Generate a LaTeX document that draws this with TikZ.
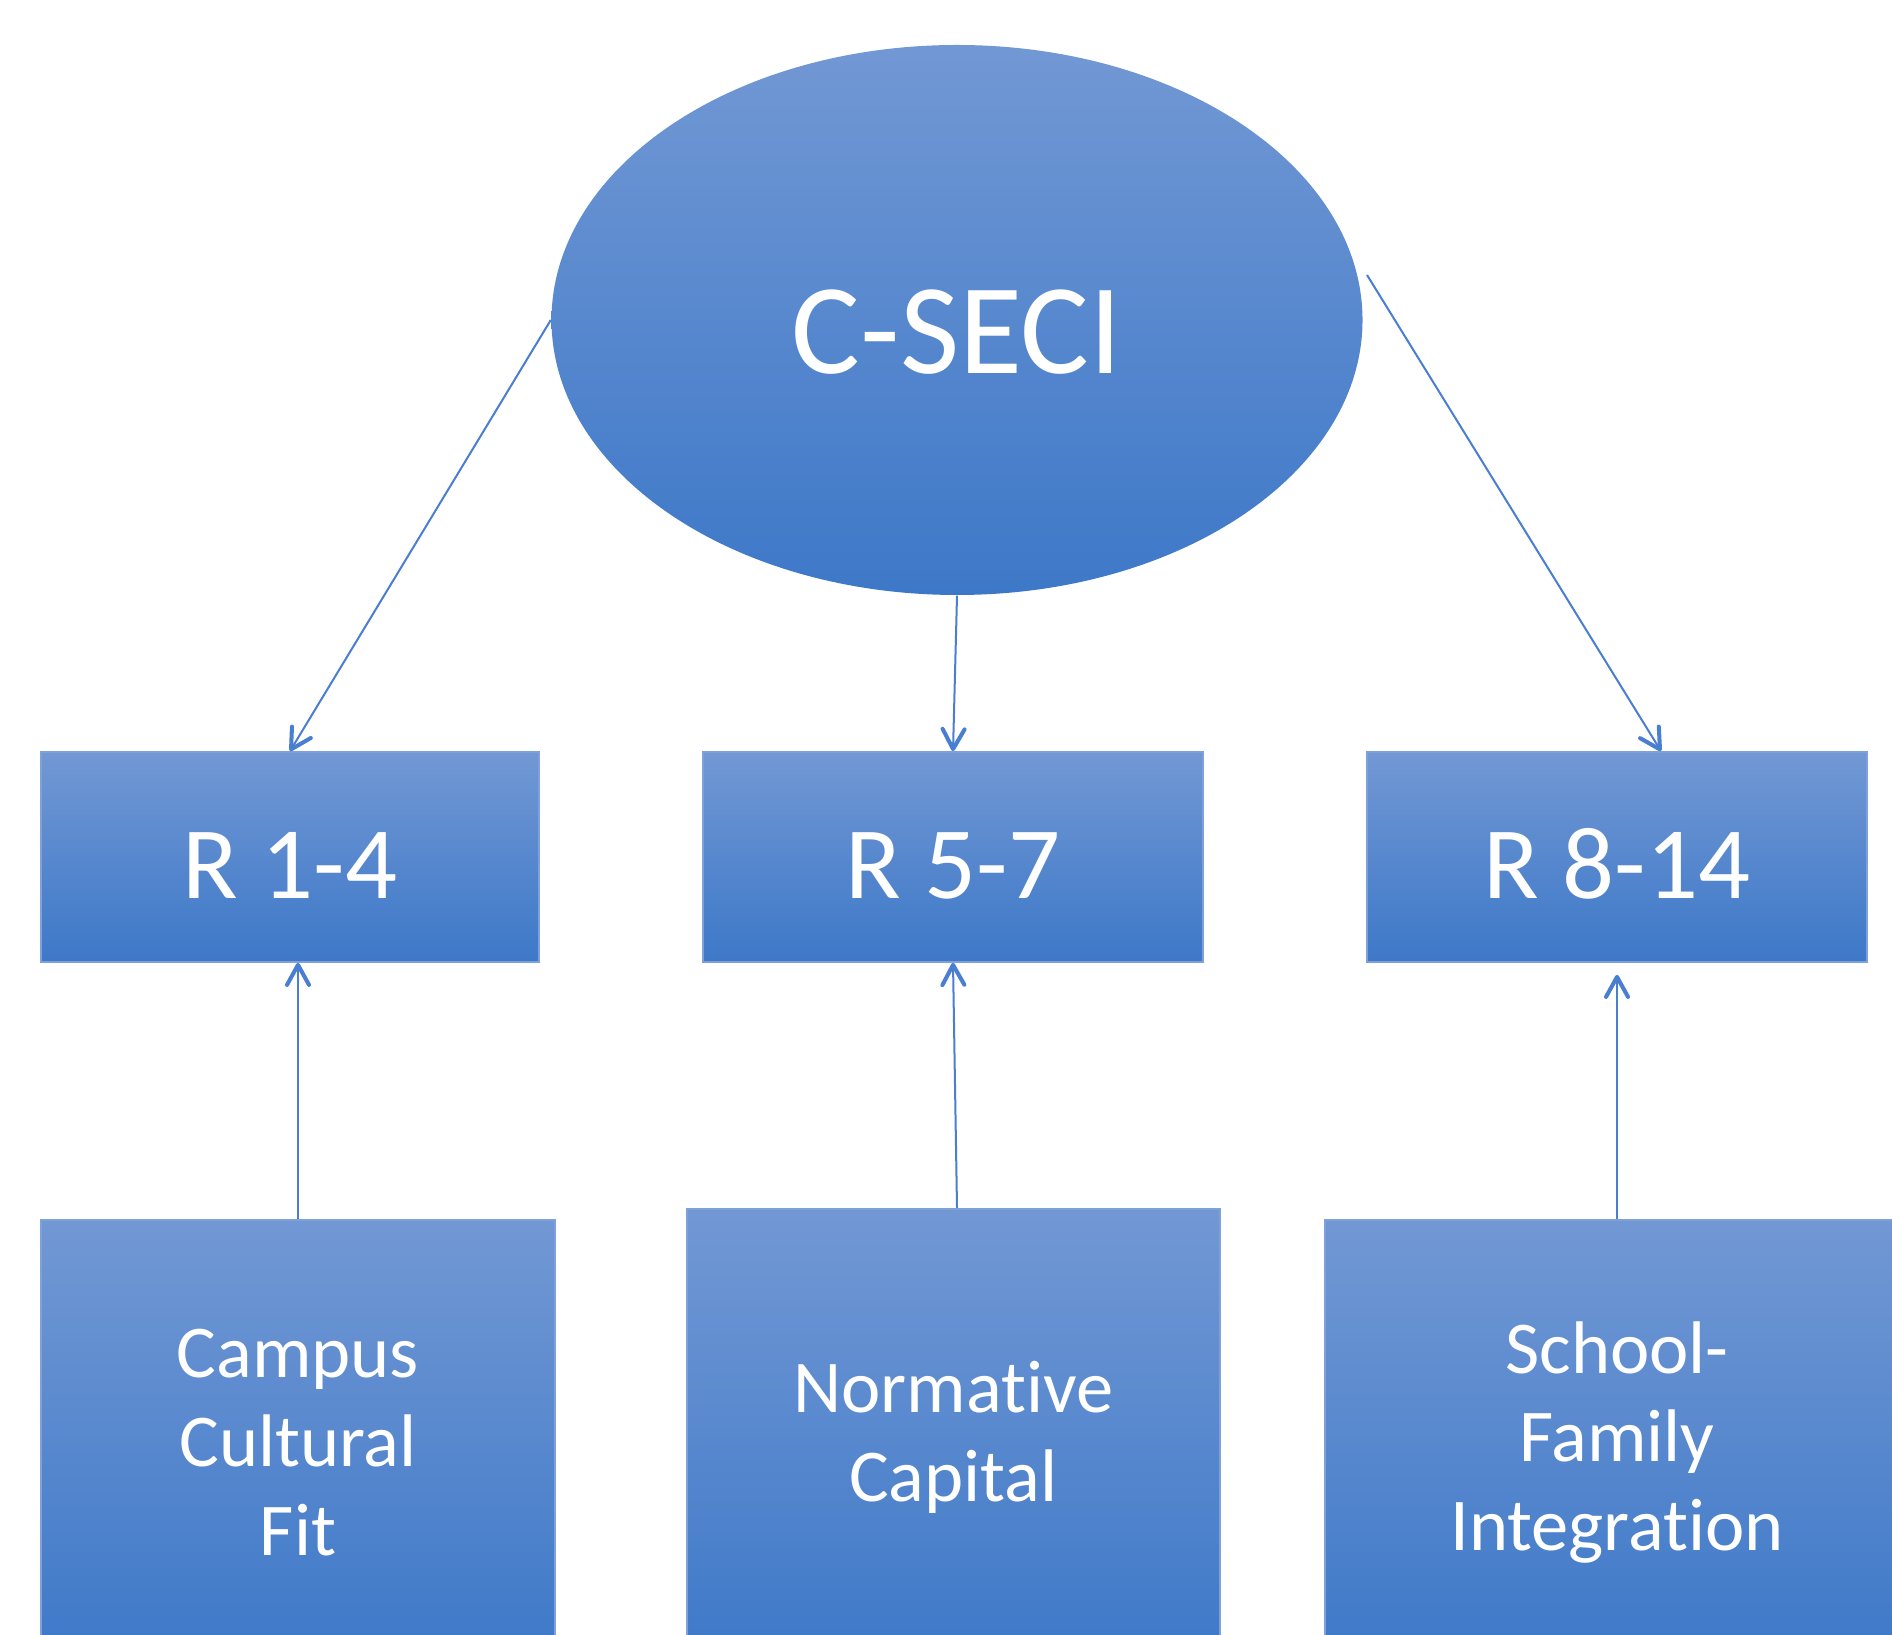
\documentclass[tikz,border=0pt]{standalone}
\usepackage{fontspec}
\setmainfont{Carlito}[Ligatures=NoCommon]
\usetikzlibrary{arrows.meta, shapes.geometric}
\definecolor{shadetop}{HTML}{7298D4}
\definecolor{shademid}{HTML}{4A86D4}
\definecolor{shadebot}{HTML}{3D78C8}
\definecolor{rimblue}{HTML}{7EA1D9}
\definecolor{linkblue}{HTML}{4A7ED0}
\tikzset{
    cnode/.style={ellipse, top color=shadetop, middle color=shademid, bottom color=shadebot, text=white, inner sep=0pt, minimum width=8.11cm, minimum height=5.5cm, text height=30.4pt, text depth=0pt, font=\fontsize{36.7pt}{44pt}\selectfont},
    rnode/.style={rectangle, draw=rimblue, line width=0.5pt, top color=shadetop, middle color=shademid, bottom color=shadebot, text=white, minimum height=2.1cm, text height=23.4pt, text depth=0pt, font=\fontsize{29.2pt}{35pt}\selectfont},
    fnode/.style={rectangle, draw=rimblue, line width=0.5pt, top color=shadetop, middle color=shademid, bottom color=shadebot, text=white, align=center, font=\fontsize{21.2pt}{25.3pt}\selectfont},
    link/.style={draw=linkblue, line width=0.57pt, -{Straight Barb[length=2mm, width=2.2mm, line width=1.15pt, round]}},
}

\begin{document}
\begin{tikzpicture}
    \useasboundingbox (0,0) rectangle (18.92,-16.35);
    \clip (0,0) rectangle (18.92,-16.35);

    % Top ellipse
    \node[cnode] (seci) at (9.57,-3.20) {C-SECI};

    % Middle row
    \node[rnode, minimum width=4.98cm] (r1) at (2.90,-8.57) {R 1-4};
    \node[rnode, minimum width=5.00cm] (r2) at (9.53,-8.57) {R 5-7};
    \node[rnode, minimum width=5.00cm] (r3) at (16.17,-8.57) {R 8-14};

    % Bottom row
    \node[fnode, minimum width=5.14cm, minimum height=4.45cm] (fit) at (2.98,-14.425) {Campus\\Cultural\\Fit};
    \node[fnode, minimum width=5.33cm, minimum height=4.56cm] (norm) at (9.535,-14.37) {Normative\\Capital};
    \node[fnode, minimum width=5.84cm, minimum height=4.45cm] (fam) at (16.17,-14.425) {School-\\Family\\Integration};

    % Arrows
    \coordinate (rs) at (13.67,-2.75);
    \coordinate (re) at ([xshift=4.4mm]r3.north);
    \draw[link] (seci.west) -- (r1.north);
    \draw[link] (seci.south) -- (r2.north);
    \draw[link] (rs) -- (re);
    \draw[link] (fit.north) -- (fit.north |- r1.south);
    \draw[link] ([xshift=0.35mm]norm.north) -- (r2.south);
    \draw[link, shorten >=1.2mm] (fam.north) -- (r3.south);
\end{tikzpicture}
\end{document}
